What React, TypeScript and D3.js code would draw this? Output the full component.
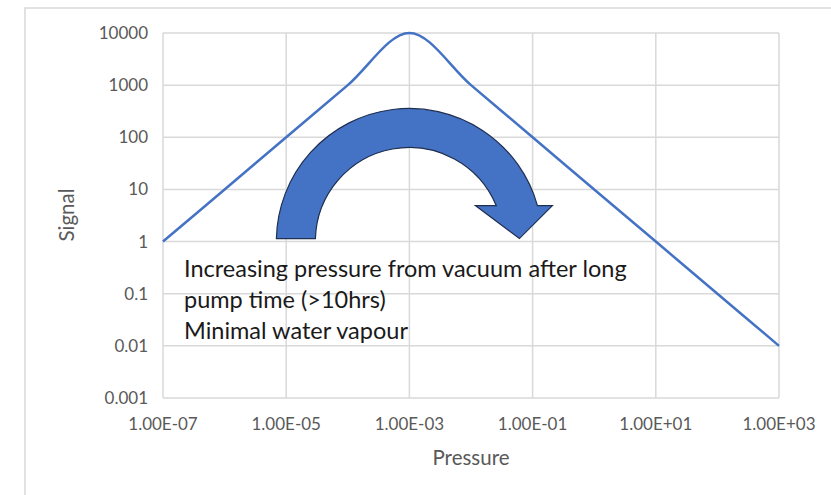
import React from "react";
import * as d3 from "d3";

// Signal vs pressure (log-log), one smoothed series
const pressure = [1e-7, 1e-6, 1e-5, 1e-4, 1e-3, 1e-2, 1e-1, 1, 10, 100, 1000];
const signal = [1, 10, 100, 1000, 10000, 1000, 100, 10, 1, 0.1, 0.01];

const xTicks = [1e-7, 1e-5, 1e-3, 1e-1, 10, 1000];
const xTickLabels = ["1.00E-07", "1.00E-05", "1.00E-03", "1.00E-01", "1.00E+01", "1.00E+03"];
const yTicks = [0.001, 0.01, 0.1, 1, 10, 100, 1000, 10000];
const yTickLabels = ["0.001", "0.01", "0.1", "1", "10", "100", "1000", "10000"];

const noteLines = [
  "Increasing pressure from vacuum after long",
  "pump time (>10hrs)",
  "Minimal water vapour",
];

const W = 831;
const H = 495;
const plot = { left: 163, right: 779, top: 33, bottom: 398 };
const FONT = "Lato, 'Open Sans', sans-serif";

export default function App() {
  const x = d3.scaleLog().domain([1e-7, 1e3]).range([plot.left, plot.right]);
  const y = d3.scaleLog().domain([1e-3, 1e4]).range([plot.bottom, plot.top]);

  const pts: [number, number][] = pressure.map((p, i) => [p, signal[i]]);
  const line = d3
    .line<[number, number]>()
    .x((d) => x(d[0]))
    .y((d) => y(d[1]))
    .curve(d3.curveCatmullRom.alpha(0));

  // Curved arrow annotation, centred on (1e-3, 1)
  const cx = x(1e-3);
  const cy = y(1);
  const rOut = 133;
  const rIn = 94;
  const joinY = cy - 36;
  const outEndX = cx + Math.sqrt(rOut * rOut - (cy - joinY) ** 2);
  const inEndX = cx + Math.sqrt(rIn * rIn - (cy - joinY) ** 2);
  const headL = cx + 66;
  const headR = cx + 143;
  const tipX = cx + 110;
  const tipY = cy - 3;
  const arrowPath = [
    `M${cx - rOut},${cy - 3}`,
    `A${rOut},${rOut} 0 0 1 ${outEndX},${joinY}`,
    `L${headR},${joinY}`,
    `L${tipX},${tipY}`,
    `L${headL},${joinY}`,
    `L${inEndX},${joinY}`,
    `A${rIn},${rIn} 0 0 0 ${cx - rIn},${cy - 3}`,
    "Z",
  ].join(" ");

  return (
    <svg
      width={W}
      height={H}
      style={{ position: "absolute", left: 0, top: 0, background: "#fff" }}
    >
      <rect x={0} y={0} width={W} height={H} fill="#fff" />
      {/* chart frame */}
      <path d={`M25,${H + 2} L25,8 L${W + 2},8`} fill="none" stroke="#d9d9d9" strokeWidth={1.5} />

      {/* grid */}
      {yTicks.map((t) => (
        <line
          key={"gy" + t}
          x1={plot.left}
          x2={plot.right}
          y1={y(t)}
          y2={y(t)}
          stroke="#d9d9d9"
          strokeWidth={1.5}
        />
      ))}
      {xTicks.map((t) => (
        <line
          key={"gx" + t}
          x1={x(t)}
          x2={x(t)}
          y1={plot.top}
          y2={plot.bottom}
          stroke="#d9d9d9"
          strokeWidth={1.5}
        />
      ))}

      {/* tick labels */}
      {yTicks.map((t, i) => (
        <text
          key={"ly" + t}
          x={plot.left - 15}
          y={y(t)}
          dy="0.35em"
          textAnchor="end"
          fontFamily={FONT}
          fontSize={17}
          fill="#595959"
        >
          {yTickLabels[i]}
        </text>
      ))}
      {xTicks.map((t, i) => (
        <text
          key={"lx" + t}
          x={x(t)}
          y={430}
          textAnchor="middle"
          fontFamily={FONT}
          fontSize={17}
          fill="#595959"
        >
          {xTickLabels[i]}
        </text>
      ))}

      {/* axis titles */}
      <text
        x={471}
        y={465}
        textAnchor="middle"
        fontFamily={FONT}
        fontSize={20.5}
        fill="#595959"
      >
        Pressure
      </text>
      <text
        transform="translate(74,215) rotate(-90)"
        textAnchor="middle"
        fontFamily={FONT}
        fontSize={20.5}
        fill="#595959"
      >
        Signal
      </text>

      {/* series */}
      <path d={line(pts) || ""} fill="none" stroke="#4472c4" strokeWidth={2.5} strokeLinejoin="round" />

      {/* annotation */}
      <path d={arrowPath} fill="#4472c4" stroke="#1f2f4f" strokeWidth={1.2} strokeLinejoin="miter" />
      {noteLines.map((s, i) => (
        <text
          key={s}
          x={184}
          y={277 + i * 31}
          fontFamily={FONT}
          fontSize={23.5}
          fill="#1a1a1a"
        >
          {s}
        </text>
      ))}
    </svg>
  );
}
